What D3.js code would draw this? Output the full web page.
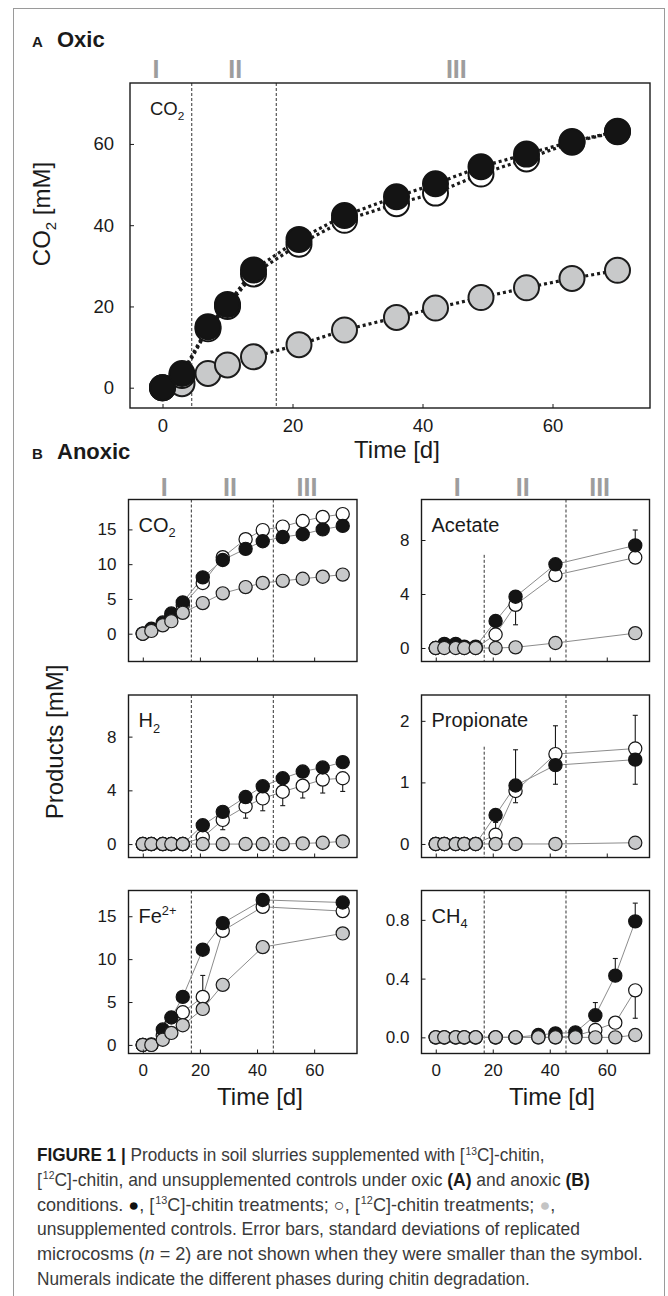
<!DOCTYPE html>
<html lang="en">
<head>
<meta charset="utf-8">
<title>Products in soil slurries with chitin</title>
<style>
    body {
        margin: 0;
        background: #fff;
    }

    svg {
        display: block;
        font-family: "Liberation Sans", Arial, sans-serif;
    }
</style>
</head>
<body>
<svg id="figure" width="668" height="1296"></svg>
<script src="https://d3js.org/d3.v7.min.js"></script>
<script>
    const FONT = '"Liberation Sans", Arial, sans-serif';
    const CAPTION_FONT = '"Liberation Sans Narrow", "Liberation Sans", Arial, sans-serif';

    // shared time axis
    const timeDomain = [-5, 75];
    const timeTicks = [0, 20, 40, 60];
    const phaseNames = ["I", "II", "III"];

    // A: oxic CO2
    const oxicDays = [0, 3, 7, 10, 14, 21, 28, 36, 42, 49, 56, 63, 70];
    const oxicC13 = [0, 3.5, 15, 20.5, 29, 36.5, 42.4, 47, 50.2, 54.4, 57.5, 60.6, 63.1];
    const oxicC12 = [0, 3, 14.5, 20, 28, 35.3, 41.2, 45.3, 47.9, 52.6, 56.3, 60.4, 63];
    const oxicCtrl = [0, 1, 3.5, 5.6, 7.6, 10.6, 14.2, 17.3, 19.6, 22.2, 24.6, 26.9, 28.9];
    const oxicYTicks = [0, 20, 40, 60];
    const oxicPhaseBounds = [4.5, 17.5];
    const oxicPhaseLabelDays = [-1, 11.2, 45.2];

    // B: anoxic
    const anoxicDaysFull = [0, 3, 7, 10, 14, 21, 28, 36, 42, 49, 56, 63, 70];
    const anoxicDaysShort = [0, 3, 7, 10, 14, 21, 28, 42, 70];
    const anoxicPhaseBounds = [17, 45.7];
    const anoxicPhaseLabelDays = [7.5, 30.5, 57.5];

    const co2C13 = [0, 0.7, 1.6, 2.9, 4.5, 8.1, 10.6, 12.2, 13.3, 13.9, 14.3, 15.0, 15.5];
    const co2C12 = [0, 0.6, 1.3, 2.5, 4.1, 7.3, 11.0, 13.6, 14.9, 15.4, 16.2, 16.8, 17.2];
    const co2Ctrl = [0, 0.4, 1.2, 1.8, 3.0, 4.4, 5.8, 6.7, 7.3, 7.6, 7.9, 8.2, 8.5];
    const co2Ticks = [0, 5, 10, 15];
    const co2Err = [];

    const acetateC13 = [0, 0.3, 0.3, 0.1, 0.1, 2.0, 3.8, 6.2, 7.6];
    const acetateC12 = [0, 0.1, 0.1, 0, 0, 1.0, 3.2, 5.4, 6.7];
    const acetateCtrl = [0, 0, 0, 0, 0, 0, 0.05, 0.37, 1.1];
    const acetateTicks = [0, 4, 8];
    const acetateErr = [[28, 1.72, 3.2], [70, 7.6, 8.74]];

    const h2C13 = [0, 0, 0, 0, 0, 1.4, 2.4, 3.5, 4.3, 4.9, 5.4, 5.7, 6.1];
    const h2C12 = [0, 0, 0, 0, 0, 0.5, 1.8, 2.8, 3.4, 3.9, 4.35, 4.8, 4.9];
    const h2Ctrl = [0, 0, 0, 0, 0, 0, 0, 0, 0, 0, 0.05, 0.1, 0.2];
    const h2Ticks = [0, 4, 8];
    const h2Err = [[28, 1.07, 1.8], [36, 1.93, 2.8], [42, 2.48, 3.4], [49, 2.86, 3.9], [56, 3.43, 4.35], [63, 3.8, 4.8], [70, 3.92, 4.9]];

    const propionateC13 = [0, 0, 0, 0, 0, 0.47, 0.95, 1.28, 1.37];
    const propionateC12 = [0, 0, 0, 0, 0, 0.15, 0.86, 1.46, 1.55];
    const propionateCtrl = [0, 0, 0, 0, 0, 0, 0, 0, 0.02];
    const propionateTicks = [0, 1, 2];
    const propionateErr = [[21, 0.15, 0.35], [28, 0.67, 1.53], [42, 0.97, 1.92], [70, 0.97, 2.09]];

    const feC13 = [0, 0.05, 1.8, 3.2, 5.6, 11.1, 14.2, 16.9, 16.6];
    const feC12 = [0, 0, 1.1, 2.4, 3.8, 5.6, 13.3, 16.1, 15.6];
    const feCtrl = [0, 0, 0.6, 1.4, 2.3, 4.2, 7.0, 11.4, 13.0];
    const feTicks = [0, 5, 10, 15];
    const feErr = [[21, 5.6, 8.1]];

    const ch4C13 = [0, 0, 0, 0, 0, 0, 0, 0.016, 0.027, 0.034, 0.15, 0.42, 0.79];
    const ch4C12 = [0, 0, 0, 0, 0, 0, 0, 0, 0, 0.01, 0.05, 0.1, 0.32];
    const ch4Ctrl = [0, 0, 0, 0, 0, 0, 0, 0, 0, 0, 0, 0, 0.016];
    const ch4Ticks = [0, 0.4, 0.8];
    const ch4Err = [[56, 0.15, 0.237], [63, 0.42, 0.537], [70, 0.79, 0.914], [70, 0.13, 0.32]];

    const seriesStyle = {
        c13: {fill: "#141414", stroke: "#141414"},
        c12: {fill: "#ffffff", stroke: "#141414"},
        ctrl: {fill: "#c8c9ca", stroke: "#1c1c1c"}
    };

    const svg = d3.select("#figure");

    // outer frame of the figure
    svg.append("rect")
        .attr("x", 13.5).attr("y", 8.5).attr("width", 651).attr("height", 1310)
        .attr("fill", "none").attr("stroke", "#9a9a9a").attr("stroke-width", 1);

    function addLabel(g, parts, x, y, size)
    {
        const t = g.append("text").attr("x", x).attr("y", y)
            .attr("font-size", size).attr("font-family", FONT).attr("fill", "#1a1a1a");
        parts.forEach(([txt, kind]) =>
        {
            const s = t.append("tspan").text(txt);
            if(kind === "sub") s.attr("font-size", size * 0.64).attr("dy", size * 0.28);
            if(kind === "sup") s.attr("font-size", size * 0.64).attr("dy", -size * 0.4);
        });
        return t;
    }

    function drawPanel(p)
    {
        const x = d3.scaleLinear().domain(timeDomain).range([p.left, p.right]);
        const y = d3.scaleLinear().domain(p.yDomain).range([p.bottom, p.top]);
        const g = svg.append("g");

        // phase boundaries
        p.bounds.forEach((b, i) =>
        {
            const top = p.dashTops && p.dashTops[i] != null ? y(p.dashTops[i]) : p.top;
            g.append("line")
                .attr("x1", x(b)).attr("x2", x(b)).attr("y1", top).attr("y2", p.bottom)
                .attr("stroke", "#333").attr("stroke-width", 1).attr("stroke-dasharray", "3,2");
        });

        const line = d3.line().x((d, i) => x(p.days[i])).y(d => y(d));
        p.order.forEach(key =>
        {
            g.append("path").datum(p.series[key]).attr("d", line)
                .attr("fill", "none").attr("stroke", p.lineColor)
                .attr("stroke-width", p.lineWidth).attr("stroke-dasharray", p.lineDash);
        });

        // error bars
        const eb = g.append("g").attr("stroke", "#1a1a1a").attr("stroke-width", 1.1);
        p.err.forEach(([day, lo, hi]) =>
        {
            const cx = x(day);
            eb.append("line").attr("x1", cx).attr("x2", cx).attr("y1", y(lo)).attr("y2", y(hi));
            eb.append("line").attr("x1", cx - 2.5).attr("x2", cx + 2.5).attr("y1", y(lo)).attr("y2", y(lo));
            eb.append("line").attr("x1", cx - 2.5).attr("x2", cx + 2.5).attr("y1", y(hi)).attr("y2", y(hi));
        });

        p.order.forEach(key =>
        {
            g.append("g").selectAll("circle")
                .data(p.series[key])
                .join("circle")
                .attr("cx", (d, i) => x(p.days[i]))
                .attr("cy", d => y(d))
                .attr("r", p.r)
                .attr("fill", seriesStyle[key].fill)
                .attr("stroke", seriesStyle[key].stroke)
                .attr("stroke-width", p.markerStroke);
        });

        // axes with inward ticks
        const yAxis = d3.axisLeft(y).tickValues(p.yTicks).tickSize(-4).tickSizeOuter(0)
            .tickPadding(p.yPad).tickFormat(p.yFormat);
        const ya = g.append("g").attr("transform", `translate(${p.left},0)`).call(yAxis);
        ya.select(".domain").remove();
        ya.attr("font-family", FONT).attr("font-size", p.tickFont);
        ya.selectAll("text").attr("fill", "#1a1a1a");
        ya.selectAll("line").attr("stroke", "#1a1a1a");

        const xAxis = d3.axisBottom(x).tickValues(timeTicks).tickSize(-4).tickSizeOuter(0)
            .tickPadding(p.xPad).tickFormat(p.showX ? d3.format("d") : "");
        const xa = g.append("g").attr("transform", `translate(0,${p.bottom})`).call(xAxis);
        xa.select(".domain").remove();
        xa.attr("font-family", FONT).attr("font-size", p.tickFont);
        xa.selectAll("text").attr("fill", "#1a1a1a");
        xa.selectAll("line").attr("stroke", "#1a1a1a");

        g.append("rect")
            .attr("x", p.left).attr("y", p.top)
            .attr("width", p.right - p.left).attr("height", p.bottom - p.top)
            .attr("fill", "none").attr("stroke", "#1a1a1a").attr("stroke-width", 1.4);

        addLabel(g, p.label, p.left + p.labelDx, p.top + p.labelDy, p.labelSize);

        if(p.phaseLabels)
        {
            g.append("g").selectAll("text")
                .data(phaseNames)
                .join("text")
                .attr("x", (d, i) => x(p.phaseLabels[i]))
                .attr("y", p.phaseY)
                .attr("text-anchor", "middle")
                .attr("font-family", FONT).attr("font-weight", "bold")
                .attr("font-size", 25).attr("fill", "#9d9d9d")
                .text(d => d);
        }

        return {x, y};
    }

    // ----- A: oxic -----
    svg.append("text").attr("x", 32).attr("y", 47).attr("font-family", FONT)
        .attr("font-weight", "bold").attr("font-size", 15).attr("fill", "#1a1a1a").text("A");
    svg.append("text").attr("x", 57).attr("y", 47).attr("font-family", FONT)
        .attr("font-weight", "bold").attr("font-size", 22).attr("fill", "#1a1a1a").text("Oxic");

    drawPanel({
        left: 130, right: 650, top: 83, bottom: 408,
        yDomain: [-5, 75], yTicks: oxicYTicks, yFormat: d3.format("d"),
        days: oxicDays,
        series: {c13: oxicC13, c12: oxicC12, ctrl: oxicCtrl},
        order: ["ctrl", "c12", "c13"],
        err: [],
        bounds: oxicPhaseBounds,
        lineColor: "#1a1a1a", lineWidth: 3.2, lineDash: "3,3",
        r: 12.5, markerStroke: 2,
        tickFont: 18.5, yPad: 16, xPad: 11, showX: true,
        label: [["CO", ""], ["2", "sub"]], labelDx: 20, labelDy: 32, labelSize: 18.5,
        phaseLabels: oxicPhaseLabelDays, phaseY: 78
    });

    svg.append("text").attr("x", 397).attr("y", 458).attr("text-anchor", "middle")
        .attr("font-family", FONT).attr("font-size", 24).attr("fill", "#1a1a1a").text("Time [d]");

    const oxicTitle = svg.append("text")
        .attr("transform", "translate(50,214) rotate(-90)")
        .attr("text-anchor", "middle").attr("font-family", FONT).attr("font-size", 24).attr("fill", "#1a1a1a");
    oxicTitle.append("tspan").text("CO");
    oxicTitle.append("tspan").text("2").attr("font-size", 15).attr("dy", 6);
    oxicTitle.append("tspan").text(" [mM]").attr("dy", -6);

    // ----- B: anoxic -----
    svg.append("text").attr("x", 32).attr("y", 459).attr("font-family", FONT)
        .attr("font-weight", "bold").attr("font-size", 15).attr("fill", "#1a1a1a").text("B");
    svg.append("text").attr("x", 57).attr("y", 459).attr("font-family", FONT)
        .attr("font-weight", "bold").attr("font-size", 22).attr("fill", "#1a1a1a").text("Anoxic");

    const colX = [[128.5, 357], [421.5, 649.5]];
    const rowY = [[499.5, 661.5], [695, 857.5], [890.5, 1053.5]];

    const anoxicPanels = [
        {col: 0, row: 0, yDomain: [-4, 19.3], yTicks: co2Ticks, days: anoxicDaysFull,
            series: {c13: co2C13, c12: co2C12, ctrl: co2Ctrl}, err: co2Err,
            label: [["CO", ""], ["2", "sub"]], phaseLabels: anoxicPhaseLabelDays},
        {col: 1, row: 0, yDomain: [-1, 11], yTicks: acetateTicks, days: anoxicDaysShort,
            series: {c13: acetateC13, c12: acetateC12, ctrl: acetateCtrl}, err: acetateErr,
            label: [["Acetate", ""]], dashTops: [6.9, null], phaseLabels: anoxicPhaseLabelDays},
        {col: 0, row: 1, yDomain: [-1, 11.1], yTicks: h2Ticks, days: anoxicDaysFull,
            series: {c13: h2C13, c12: h2C12, ctrl: h2Ctrl}, err: h2Err,
            label: [["H", ""], ["2", "sub"]]},
        {col: 1, row: 1, yDomain: [-0.22, 2.42], yTicks: propionateTicks, days: anoxicDaysShort,
            series: {c13: propionateC13, c12: propionateC12, ctrl: propionateCtrl}, err: propionateErr,
            label: [["Propionate", ""]], dashTops: [1.58, null]},
        {col: 0, row: 2, yDomain: [-1, 18], yTicks: feTicks, days: anoxicDaysShort,
            series: {c13: feC13, c12: feC12, ctrl: feCtrl}, err: feErr,
            label: [["Fe", ""], ["2+", "sup"]], showX: true},
        {col: 1, row: 2, yDomain: [-0.11, 1.0], yTicks: ch4Ticks, yFormat: d3.format(".1f"), days: anoxicDaysFull,
            series: {c13: ch4C13, c12: ch4C12, ctrl: ch4Ctrl}, err: ch4Err,
            label: [["CH", ""], ["4", "sub"]], showX: true}
    ];

    anoxicPanels.forEach(d =>
    {
        drawPanel({
            left: colX[d.col][0], right: colX[d.col][1],
            top: rowY[d.row][0], bottom: rowY[d.row][1],
            yDomain: d.yDomain, yTicks: d.yTicks, yFormat: d.yFormat || d3.format("d"),
            days: d.days, series: d.series, order: ["c12", "c13", "ctrl"], err: d.err,
            bounds: anoxicPhaseBounds, dashTops: d.dashTops,
            lineColor: "#8c8c8c", lineWidth: 1, lineDash: null,
            r: 6.6, markerStroke: 1.2,
            tickFont: 17, yPad: 12, xPad: 10, showX: !!d.showX,
            label: d.label, labelDx: 10, labelDy: 32, labelSize: 20,
            phaseLabels: d.phaseLabels, phaseY: 496
        });
    });

    [260, 552].forEach(cx =>
    {
        svg.append("text").attr("x", cx).attr("y", 1105).attr("text-anchor", "middle")
            .attr("font-family", FONT).attr("font-size", 24).attr("fill", "#1a1a1a").text("Time [d]");
    });

    svg.append("text")
        .attr("transform", "translate(63,742) rotate(-90)")
        .attr("text-anchor", "middle").attr("font-family", FONT).attr("font-size", 24)
        .attr("fill", "#1a1a1a").text("Products [mM]");

    // ----- caption -----
    const captionLines = [
        {w: 507, parts: [["FIGURE 1", "b"], [" | ", "b"], ["Products in soil slurries supplemented with [", ""], ["13", "sup"], ["C]-chitin,", "down"]]},
        {w: 552, parts: [["[", ""], ["12", "sup"], ["C]-chitin, and unsupplemented controls under oxic ", "down"], ["(A)", "b"], [" and anoxic ", ""], ["(B)", "b"]]},
        {w: 517, parts: [["conditions. ", ""], ["\u25CF", "blk"], [", [", ""], ["13", "sup"], ["C]-chitin treatments; ", "down"], ["\u25CB", ""], [", [", ""], ["12", "sup"], ["C]-chitin treatments; ", "down"], ["\u25CF", "gry"], [",", ""]]},
        {w: 543, parts: [["unsupplemented controls. Error bars, standard deviations of replicated", ""]]},
        {w: 606, parts: [["microcosms (", ""], ["n", "i"], [" = 2) are not shown when they were smaller than the symbol.", ""]]},
        {w: 493, parts: [["Numerals indicate the different phases during chitin degradation.", ""]]}
    ];

    // each caption line is squeezed horizontally to the width it has in the print
    captionLines.forEach((ln, li) =>
    {
        const t = svg.append("text")
            .attr("x", 0).attr("y", 0)
            .attr("font-family", CAPTION_FONT).attr("font-size", 17.5).attr("fill", "#3a3a3a");
        ln.parts.forEach(([txt, kind]) =>
        {
            const s = t.append("tspan").text(txt);
            if(kind === "b") s.attr("font-weight", "bold").attr("fill", "#1a1a1a");
            if(kind === "i") s.attr("font-style", "italic");
            if(kind === "sup") s.attr("font-size", 10.5).attr("dy", -6.5).attr("dx", 1);
            if(kind === "down") s.attr("dy", 6.5);
            if(kind === "blk") s.attr("fill", "#111");
            if(kind === "gry") s.attr("fill", "#c4c4c4");
        });
        const natural = t.node().getComputedTextLength();
        const k = natural > 0 ? ln.w / natural : 1;
        t.attr("transform", `translate(37,${1161 + li * 24.8}) scale(${k},1)`);
    });
</script>
</body>
</html>
